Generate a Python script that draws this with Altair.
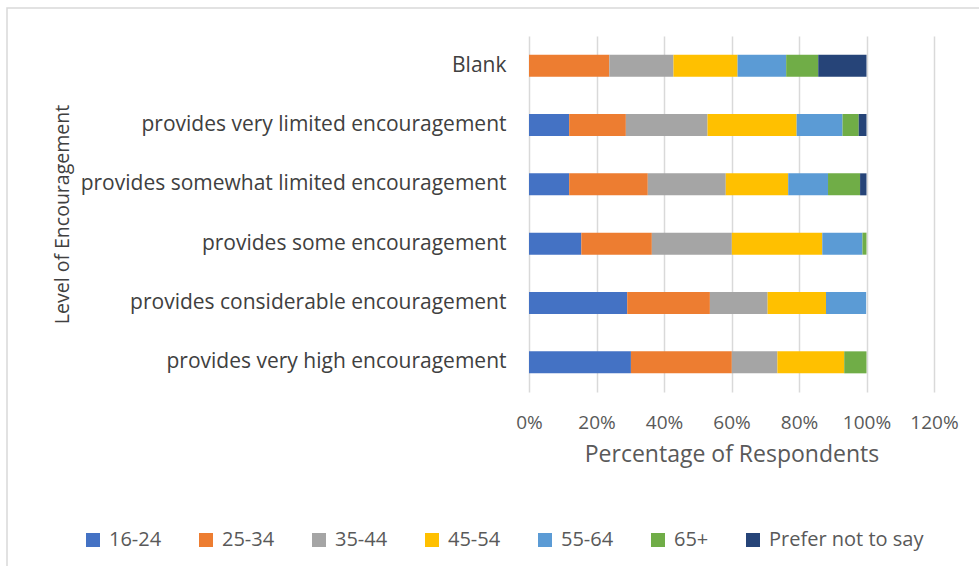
import altair as alt
import pandas as pd

categories = [
    "Blank",
    "provides very limited encouragement",
    "provides somewhat limited encouragement",
    "provides some encouragement",
    "provides considerable encouragement",
    "provides very high encouragement",
]
groups = ["16-24", "25-34", "35-44", "45-54", "55-64", "65+", "Prefer not to say"]
colors = ["#4472C4", "#ED7D31", "#A5A5A5", "#FFC000", "#5B9BD5", "#70AD47", "#264478"]

# percentage of respondents per group, for each category (in order of categories)
v_16_24 = [0.0, 11.9, 11.9, 15.5, 29.1, 30.2]
v_25_34 = [23.8, 16.8, 23.3, 20.9, 24.5, 29.9]
v_35_44 = [19.0, 24.2, 23.1, 23.7, 17.1, 13.5]
v_45_54 = [19.0, 26.4, 18.5, 26.8, 17.3, 19.8]
v_55_64 = [14.4, 13.6, 11.8, 11.9, 11.9, 0.0]
v_65 = [9.5, 4.8, 9.5, 1.2, 0.0, 6.6]
v_pnts = [14.3, 2.3, 1.9, 0.0, 0.0, 0.0]

series = [v_16_24, v_25_34, v_35_44, v_45_54, v_55_64, v_65, v_pnts]
rows = []
for gi, (g, vals) in enumerate(zip(groups, series)):
    for c, v in zip(categories, vals):
        rows.append({"category": c, "group": g, "order": gi, "value": v / 100.0})
df = pd.DataFrame(rows)

FONT = "Open Sans"

bars = alt.Chart(df).mark_bar(size=22).encode(
    y=alt.Y("category:N", sort=categories,
            scale=alt.Scale(paddingInner=0.63, paddingOuter=0.315),
            axis=alt.Axis(title="Level of Encouragement", labelFontSize=21,
                          labelColor="#404040", labelFont=FONT, ticks=False,
                          domain=False, labelPadding=23, labelLimit=600,
                          titleFont=FONT, titleFontSize=19.5, titleFontWeight="normal",
                          titleColor="#404040", titleX=-467, titleY=178,
                          titleAngle=270, titleAlign="center", titleBaseline="middle")),
    x=alt.X("value:Q", stack="zero",
            scale=alt.Scale(domain=[0, 1.2], nice=False),
            axis=alt.Axis(title="Percentage of Respondents", format=".0%",
                          values=[0, 0.2, 0.4, 0.6, 0.8, 1.0, 1.2],
                          labelFontSize=19, labelColor="#595959", labelFont=FONT,
                          labelOverlap=False, labelFlush=False,
                          ticks=False, domain=False, labelPadding=21,
                          gridColor="#D9D9D9", gridWidth=1.5,
                          titleFont=FONT, titleFontSize=23, titleFontWeight="normal",
                          titleColor="#595959", titlePadding=11)),
    color=alt.Color("group:N", sort=groups,
                    scale=alt.Scale(domain=groups, range=colors),
                    legend=alt.Legend(title=None, orient="none", direction="horizontal",
                                      legendX=-446, legendY=494,
                                      symbolType="square", symbolSize=196,
                                      symbolStrokeWidth=0, labelOffset=6,
                                      labelFont=FONT, labelFontSize=20,
                                      labelColor="#595959", columnPadding=34,
                                      symbolOffset=0)),
    order=alt.Order("order:Q"),
)

frame = alt.Chart(pd.DataFrame({"f": [0]})).mark_rect(
    fill=None, stroke="#D9D9D9", strokeWidth=1.5
).encode(x=alt.value(-522), x2=alt.value(470), y=alt.value(-28), y2=alt.value(560))

chart = alt.layer(frame, bars).properties(
    width=405, height=356,
    autosize=alt.AutoSizeParams(type="none"),
    padding={"left": 529, "top": 36, "right": 45, "bottom": 174},
).configure_view(stroke=None).configure_axisY(grid=False)

chart.save("out.html", embed_options={"renderer": "svg", "actions": False})
